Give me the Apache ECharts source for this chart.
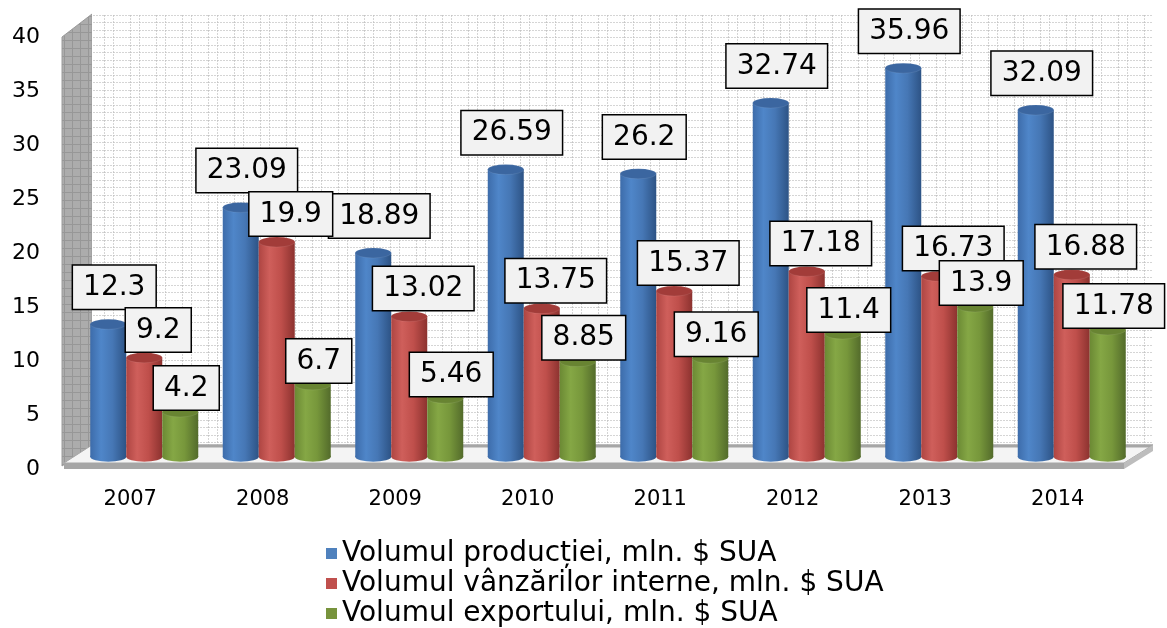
<!DOCTYPE html>
<html>
<head>
<meta charset="utf-8">
<script src="https://cdn.jsdelivr.net/npm/echarts@6/dist/echarts.min.js"></script>
<style>html,body{margin:0;padding:0;background:#fff}#c{width:1167px;height:628px}</style>
</head>
<body>
<div id="c"></div>
<script>
// ---- data ----
const years = ['2007', '2008', '2009', '2010', '2011', '2012', '2013', '2014'];
const productie = [12.3, 23.09, 18.89, 26.59, 26.2, 32.74, 35.96, 32.09];
const vanzari = [9.2, 19.9, 13.02, 13.75, 15.37, 17.18, 16.73, 16.88];
const exportVal = [4.2, 6.7, 5.46, 8.85, 9.16, 11.4, 13.9, 11.78];
const seriesNames = [
  'Volumul producției, mln. $ SUA',
  'Volumul vânzărilor interne, mln. $ SUA',
  'Volumul exportului, mln. $ SUA'
];
const yMin = 0, yMax = 40, yStep = 5;

// ---- styles ----
const FONT = 'DejaVu Sans';
const palettes = [
  {legend: '#4F81BD', stops: ['#3d6caa', '#4f86c9', '#4677b5', '#2d5385'], top: '#3b66a0'},
  {legend: '#C0504D', stops: ['#ae4542', '#cf5f5b', '#bf4f4b', '#8c322f'], top: '#a23c39'},
  {legend: '#77933C', stops: ['#6b8934', '#85a745', '#77973b', '#536b2b'], top: '#688432'}
];
const labelCfg = [
  {distance: 4, offset: [6, -6]},
  {distance: 4, offset: [14, 3]},
  {distance: 4, offset: [6, 7]}
];
function grad(p) {
  return new echarts.graphic.LinearGradient(0, 0, 1, 0, [
    {offset: 0, color: p.stops[0]},
    {offset: 0.3, color: p.stops[1]},
    {offset: 0.62, color: p.stops[2]},
    {offset: 1, color: p.stops[3]}
  ]);
}
function makePattern(w, h, bg, draw) {
  const c = document.createElement('canvas');
  c.width = w; c.height = h;
  const g = c.getContext('2d');
  g.fillStyle = bg; g.fillRect(0, 0, w, h);
  draw(g);
  return c;
}
const wallTile = makePattern(26, 15, '#ffffff', g => {
  g.strokeStyle = 'rgba(185,185,185,0.6)';
  g.lineWidth = 1;
  g.setLineDash([2, 1]);
  g.beginPath();
  g.moveTo(0, 0.5); g.lineTo(26, 0.5);
  g.moveTo(0, 7.5); g.lineTo(26, 7.5);
  g.moveTo(0.5, 0); g.lineTo(0.5, 15);
  g.moveTo(9.5, 0); g.lineTo(9.5, 15);
  g.stroke();
});
const sideTile = makePattern(8, 8, '#acacac', g => {
  g.strokeStyle = '#979797';
  g.lineWidth = 1;
  g.beginPath();
  g.moveTo(0, 0.5); g.lineTo(8, 0.5);
  g.moveTo(0.5, 0); g.lineTo(0.5, 8);
  g.stroke();
});

const series = [];
const datasets = [productie, vanzari, exportVal];
datasets.forEach((vals, i) => {
  const p = palettes[i];
  series.push({
    name: seriesNames[i], type: 'bar', xAxisIndex: 0, yAxisIndex: 0,
    data: vals, barWidth: 36, barGap: '0%', z: 2,
    itemStyle: {color: grad(p)}
  });
  series.push({
    name: seriesNames[i], type: 'pictorialBar', xAxisIndex: 0, yAxisIndex: 0,
    data: vals, barWidth: 36, barGap: '0%', z: 5,
    symbol: 'circle', symbolSize: [36, 10], symbolPosition: 'end', symbolOffset: [0, '-50%'],
    itemStyle: {color: p.top, borderColor: '#ffffff', borderWidth: 1.5},
    label: {
      show: true, position: 'top', distance: labelCfg[i].distance, offset: labelCfg[i].offset,
      fontFamily: FONT, fontSize: 28, color: '#000', lineHeight: 34,
      backgroundColor: '#f2f2f2', borderColor: '#000', borderWidth: 1.5,
      padding: [5, 10, 4, 10]
    }
  });
  series.push({
    name: seriesNames[i], type: 'pictorialBar', xAxisIndex: 1, yAxisIndex: 0,
    data: vals, barWidth: 36, barGap: '0%', z: 1,
    symbol: 'circle', symbolSize: [36, 10], symbolPosition: 'start', symbolOffset: [0, '50%'],
    itemStyle: {color: grad(p), borderColor: '#ffffff', borderWidth: 1}
  });
});

const chart = echarts.init(document.getElementById('c'), null, {renderer: 'canvas'});
chart.setOption({
  animation: false,
  backgroundColor: '#ffffff',
  grid: [
    {left: 78, right: 29, top: 24, bottom: 171},
    {left: 64, right: 43, top: 37, bottom: 159}
  ],
  xAxis: [
    {type: 'category', gridIndex: 0, data: years, axisLine: {show: false}, axisTick: {show: false}, axisLabel: {show: false}},
    {type: 'category', gridIndex: 0, data: years, show: false},
    {type: 'category', gridIndex: 1, data: years, axisLine: {show: false}, axisTick: {show: false},
     axisLabel: {margin: 20, fontFamily: FONT, fontSize: 21, color: '#000'}}
  ],
  yAxis: [
    {type: 'value', gridIndex: 0, min: yMin, max: yMax, interval: yStep, show: false},
    {type: 'value', gridIndex: 1, min: yMin, max: yMax, interval: yStep,
     axisLine: {show: false}, axisTick: {show: false}, splitLine: {show: false},
     axisLabel: {margin: 24, fontFamily: FONT, fontSize: 22, color: '#000'}}
  ],
  legend: {
    orient: 'vertical', left: 326, top: 539, height: 90, padding: 0,
    itemWidth: 11, itemHeight: 11, itemGap: 1, itemTextGap: 6,
    icon: 'rect', selectedMode: false,
    textStyle: {fontFamily: FONT, fontSize: 28, color: '#000', lineHeight: 29},
    data: seriesNames.map((n, i) => ({name: n, itemStyle: {color: palettes[i].legend}}))
  },
  graphic: [
    {type: 'polygon', z: 0, silent: true, shape: {points: [[62, 37], [92, 14], [92, 446], [62, 466]]},
     style: {fill: {image: sideTile, repeat: 'repeat'}, stroke: '#9a9a9a', lineWidth: 1}},
    {type: 'rect', z: 0, silent: true, shape: {x: 92, y: 14, width: 1061, height: 432},
     style: {fill: {image: wallTile, repeat: 'repeat'}}},
    {type: 'polygon', z: 0, silent: true, shape: {points: [[64, 463], [92, 445], [1153, 445], [1124, 463]]},
     style: {fill: '#f4f4f4', stroke: '#a6a6a6', lineWidth: 1}},
    {type: 'line', z: 0, silent: true, shape: {x1: 92, y1: 446, x2: 1153, y2: 446},
     style: {stroke: '#a6a6a6', lineWidth: 3}},
    {type: 'polygon', z: 0, silent: true, shape: {points: [[64, 463], [1124, 463], [1124, 469], [64, 469]]},
     style: {fill: '#a6a6a6'}},
    {type: 'polygon', z: 0, silent: true, shape: {points: [[1124, 463], [1153, 445], [1153, 451], [1124, 469]]},
     style: {fill: '#bdbdbd'}}
  ],
  series: series
});
</script>
</body>
</html>
